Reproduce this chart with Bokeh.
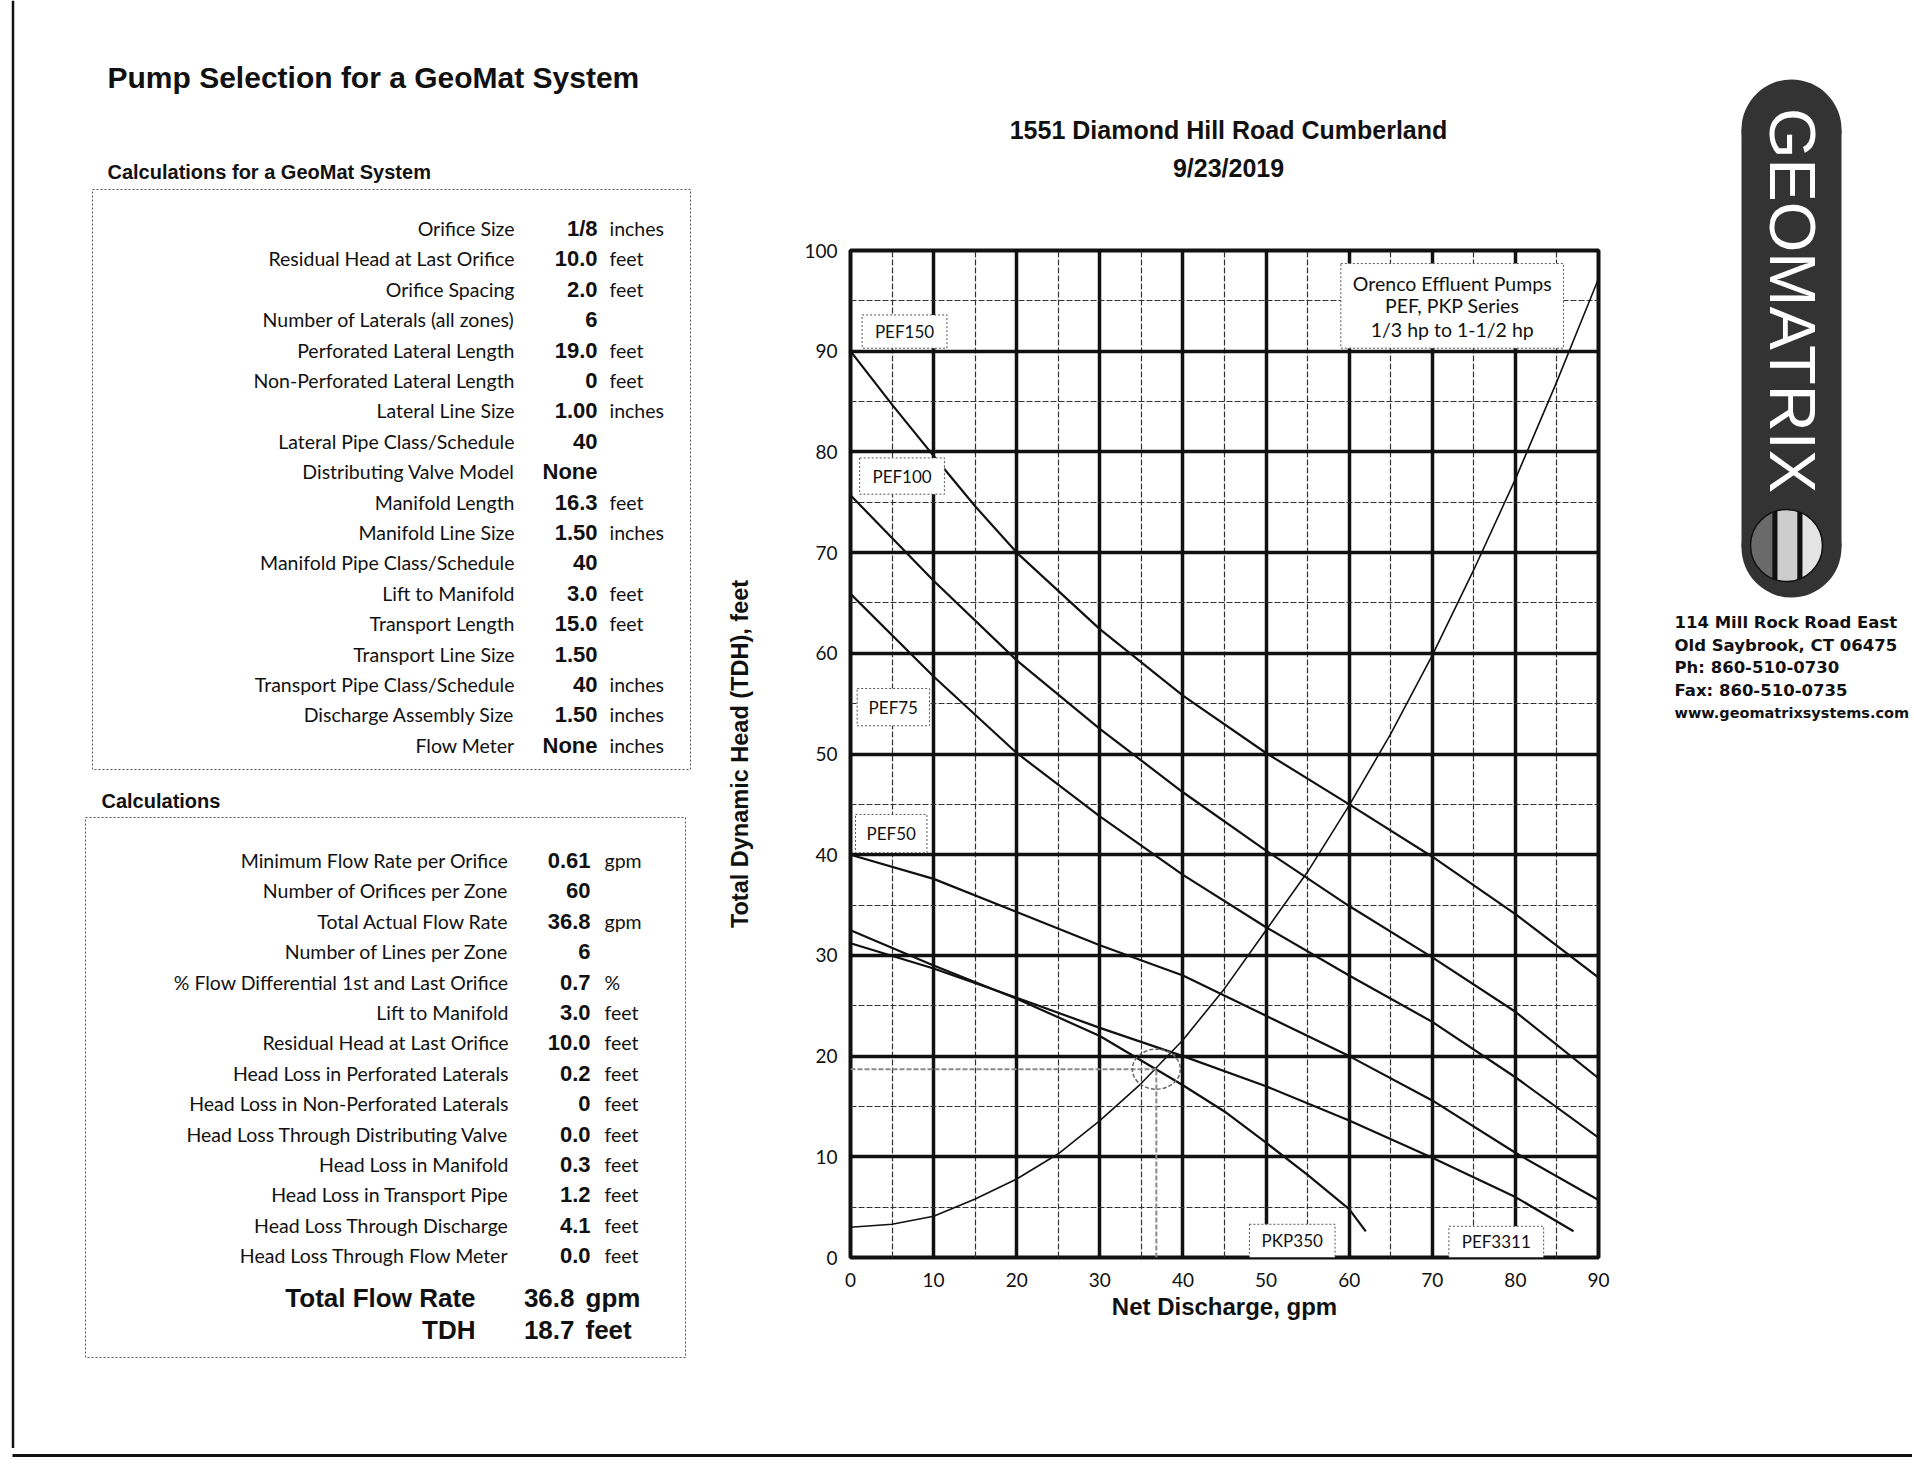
import numpy as np
from bokeh.plotting import figure
from bokeh.models import Range1d, FixedTicker
from bokeh.layouts import row, column
from bokeh.embed import file_html
from bokeh.resources import INLINE
from bokeh.core.properties import value

# ---------------- data ----------------
page_title = "Pump Selection for a GeoMat System"
inputs_heading = "Calculations for a GeoMat System"
input_labels = ["Orifice Size", "Residual Head at Last Orifice", "Orifice Spacing",
                "Number of Laterals (all zones)", "Perforated Lateral Length",
                "Non-Perforated Lateral Length", "Lateral Line Size",
                "Lateral Pipe Class/Schedule", "Distributing Valve Model", "Manifold Length",
                "Manifold Line Size", "Manifold Pipe Class/Schedule", "Lift to Manifold",
                "Transport Length", "Transport Line Size", "Transport Pipe Class/Schedule",
                "Discharge Assembly Size", "Flow Meter"]
input_values = ["1/8", "10.0", "2.0", "6", "19.0", "0", "1.00", "40", "None", "16.3",
                "1.50", "40", "3.0", "15.0", "1.50", "40", "1.50", "None"]
input_units = ["inches", "feet", "feet", "", "feet", "feet", "inches", "", "", "feet",
               "inches", "", "feet", "feet", "", "inches", "inches", "inches"]

calc_heading = "Calculations"
calc_labels = ["Minimum Flow Rate per Orifice", "Number of Orifices per Zone",
               "Total Actual Flow Rate", "Number of Lines per Zone",
               "% Flow Differential 1st and Last Orifice", "Lift to Manifold",
               "Residual Head at Last Orifice", "Head Loss in Perforated Laterals",
               "Head Loss in Non-Perforated Laterals", "Head Loss Through Distributing Valve",
               "Head Loss in Manifold", "Head Loss in Transport Pipe",
               "Head Loss Through Discharge", "Head Loss Through Flow Meter"]
calc_values = ["0.61", "60", "36.8", "6", "0.7", "3.0", "10.0", "0.2", "0", "0.0", "0.3",
               "1.2", "4.1", "0.0"]
calc_units = ["gpm", "", "gpm", "", "%", "feet", "feet", "feet", "feet", "feet", "feet",
              "feet", "feet", "feet"]
total_labels = ["Total Flow Rate", "TDH"]
total_values = ["36.8", "18.7"]
total_units = ["gpm", "feet"]

chart_title = ["1551 Diamond Hill Road Cumberland", "9/23/2019"]
x_label = "Net Discharge, gpm"
y_label = "Total Dynamic Head (TDH), feet"
x_ticks = list(range(0, 91, 10))
y_ticks = list(range(0, 101, 10))

pef150_q = [0, 5, 10, 15, 20, 30, 40, 50, 60, 70, 80, 90]
pef150_h = [90.0, 84.7, 79.6, 74.6, 70.0, 62.4, 55.8, 50.1, 45.0, 39.8, 34.1, 27.8]
pef100_q = [0, 10, 20, 30, 40, 50, 60, 70, 80, 90]
pef100_h = [75.7, 67.2, 59.3, 52.5, 46.2, 40.4, 34.9, 29.8, 24.4, 17.8]
pef75_q = [0, 10, 20, 30, 40, 50, 60, 70, 80, 90]
pef75_h = [65.9, 57.7, 50.1, 43.8, 38.0, 32.8, 28.0, 23.4, 17.9, 11.9]
pef50_q = [0, 10, 20, 30, 40, 50, 60, 70, 80, 90]
pef50_h = [40.0, 37.6, 34.3, 31.0, 28.0, 24.0, 20.0, 15.6, 10.4, 5.7]
pkp350_q = [0, 10, 20, 30, 40, 45, 50, 55, 60, 62]
pkp350_h = [32.5, 29.0, 25.7, 22.0, 17.1, 14.5, 11.4, 8.2, 4.8, 2.6]
pef3311_q = [0, 10, 20, 30, 40, 50, 60, 70, 80, 87]
pef3311_h = [31.2, 28.7, 25.8, 22.8, 20.0, 17.0, 13.6, 9.9, 6.0, 2.6]
system_q = [0, 5, 10, 15, 20, 25, 30, 35, 40, 45, 50, 55, 60, 65, 70, 75, 80, 85, 90]
system_h = [3.0, 3.3, 4.1, 5.8, 7.8, 10.3, 13.6, 17.3, 21.6, 26.7, 32.5, 38.3, 44.9,
            52.0, 59.8, 68.3, 77.3, 87.0, 97.2]

op_flow = 36.8
op_tdh = 18.7

pump_names = ["PEF150", "PEF100", "PEF75", "PEF50", "PKP350", "PEF3311"]
legend_lines = ["Orenco Effluent Pumps", "PEF, PKP Series", "1/3 hp to 1-1/2 hp"]
logo_text = "GEOMATRIX"
company_lines = ["114 Mill Rock Road East", "Old Saybrook, CT 06475", "Ph: 860-510-0730",
                 "Fax: 860-510-0735", "www.geomatrixsystems.com"]

# ---------------- styling ----------------
REG = "Lato"
SANS = "Liberation Sans"
VERD = "DejaVu Sans"
INK = "#111111"
ROW_H = 1448
TITLE_H = 240


def canvas(x0, x1, y0, y1, w, h):
    f = figure(width=w, height=h, x_range=Range1d(x0, x1), y_range=Range1d(y1, y0),
               output_backend="svg", toolbar_location=None, x_axis_type=None,
               y_axis_type=None, min_border=0, min_border_left=0, min_border_right=0,
               min_border_top=0, min_border_bottom=0, outline_line_color=None,
               background_fill_color="white", border_fill_color="white")
    f.frame_align = False
    return f


# ---------------- left panel (page pixel coordinates) ----------------
left = canvas(0, 700, 0, ROW_H, 700, ROW_H)
left.segment(x0=[12.5], y0=[0], x1=[12.5], y1=[ROW_H], line_color=INK, line_width=2.5)
left.text(x=[107], y=[77], text=[page_title], text_font=value(SANS), text_font_style="bold",
          text_font_size="30px", text_baseline="middle", text_color=INK)
left.text(x=[107, 101], y=[171, 800], text=[inputs_heading, calc_heading], text_font=value(SANS),
          text_font_style="bold", text_font_size="20px", text_baseline="middle", text_color=INK)
left.quad(left=[92, 85], right=[690, 685], top=[189, 817], bottom=[769, 1357],
          fill_color=None, line_color="#555555", line_width=1, line_dash="2 2")

r1 = [228 + 30.4 * i for i in range(len(input_labels))]
left.text(x=[514] * len(r1), y=r1, text=input_labels, text_font=value(REG),
          text_font_size="19.5px", text_align="right", text_baseline="middle", text_color=INK)
left.text(x=[597] * len(r1), y=r1, text=input_values, text_font=value(SANS),
          text_font_style="bold", text_font_size="22px", text_align="right",
          text_baseline="middle", text_color=INK)
left.text(x=[609] * len(r1), y=r1, text=input_units, text_font=value(REG),
          text_font_size="19.5px", text_align="left", text_baseline="middle", text_color=INK)

r2 = [860 + 30.4 * i for i in range(len(calc_labels))]
left.text(x=[508] * len(r2), y=r2, text=calc_labels, text_font=value(REG),
          text_font_size="19.5px", text_align="right", text_baseline="middle", text_color=INK)
left.text(x=[590] * len(r2), y=r2, text=calc_values, text_font=value(SANS),
          text_font_style="bold", text_font_size="22px", text_align="right",
          text_baseline="middle", text_color=INK)
left.text(x=[604] * len(r2), y=r2, text=calc_units, text_font=value(REG),
          text_font_size="19.5px", text_align="left", text_baseline="middle", text_color=INK)

rt = [1297.5, 1329]
left.text(x=[475, 475], y=rt, text=total_labels, text_font=value(SANS), text_font_style="bold",
          text_font_size="26px", text_align="right", text_baseline="middle", text_color=INK)
left.text(x=[574, 574], y=rt, text=total_values, text_font=value(SANS), text_font_style="bold",
          text_font_size="26px", text_align="right", text_baseline="middle", text_color=INK)
left.text(x=[585, 585], y=rt, text=total_units, text_font=value(SANS), text_font_style="bold",
          text_font_size="26px", text_align="left", text_baseline="middle", text_color=INK)

# ---------------- chart title strip ----------------
head = canvas(700, 1630, 0, TITLE_H, 930, TITLE_H)
head.text(x=[1228, 1228], y=[129, 167], text=chart_title, text_font=value(SANS),
          text_font_style="bold", text_font_size="25px", text_align="center",
          text_baseline="middle", text_color=INK)

# ---------------- chart ----------------
p = figure(width=930, height=ROW_H - TITLE_H, x_range=Range1d(0, 90), y_range=Range1d(0, 100),
           output_backend="svg", toolbar_location=None, min_border_left=150,
           min_border_right=32, min_border_top=10, min_border_bottom=191,
           background_fill_color="white", border_fill_color="white")
p.frame_align = False
p.outline_line_color = INK
p.outline_line_width = 4

x_minor = [t + 5 for t in x_ticks[:-1]]
y_minor = [t + 5 for t in y_ticks[:-1]]
p.xaxis.ticker = FixedTicker(ticks=x_ticks, minor_ticks=x_minor)
p.yaxis.ticker = FixedTicker(ticks=y_ticks, minor_ticks=y_minor)
p.xgrid.ticker = FixedTicker(ticks=x_ticks, minor_ticks=x_minor)
p.ygrid.ticker = FixedTicker(ticks=y_ticks, minor_ticks=y_minor)
for g in (p.xgrid, p.ygrid):
    g.grid_line_color = INK
    g.grid_line_width = 3.5
    g.grid_line_alpha = 1.0
    g.minor_grid_line_color = "#333333"
    g.minor_grid_line_width = 1.2
    g.minor_grid_line_dash = "6 2"

for ax in (p.xaxis, p.yaxis):
    ax.axis_line_color = None
    ax.major_tick_line_color = None
    ax.minor_tick_line_color = None
    ax.major_label_text_font = REG
    ax.major_label_text_font_size = "19px"
    ax.major_label_text_color = INK
    ax.axis_label_text_font = SANS
    ax.axis_label_text_font_style = "bold"
    ax.axis_label_text_color = INK
p.xaxis.axis_label = x_label
p.yaxis.axis_label = y_label
p.xaxis.major_label_standoff = 9
p.yaxis.major_label_standoff = 7
p.xaxis.axis_label_text_font_size = "24px"
p.yaxis.axis_label_text_font_size = "23.5px"
p.xaxis.axis_label_standoff = 3
p.yaxis.axis_label_standoff = 48

for q, h in [(pef150_q, pef150_h), (pef100_q, pef100_h), (pef75_q, pef75_h),
             (pef50_q, pef50_h), (pkp350_q, pkp350_h), (pef3311_q, pef3311_h)]:
    p.line(q, h, line_color=INK, line_width=2.2)
p.line(system_q, system_h, line_color=INK, line_width=1.6)

# operating point guides
p.segment(x0=[0, op_flow], y0=[op_tdh, 0], x1=[op_flow, op_flow], y1=[op_tdh, op_tdh],
          line_color="#8a8a8a", line_width=2, line_dash="5 2")
p.ellipse(x=[op_flow], y=[op_tdh], width=48, height=40, width_units="screen",
          height_units="screen", fill_color=None, line_color="#666666", line_width=1.5,
          line_dash="4 2")

# curve name boxes
lab_left = [1.4, 1.1, 0.8, 0.6, 48.0, 72.0]
lab_right = [11.6, 11.3, 9.5, 9.2, 58.3, 83.4]
lab_top = [93.6, 79.4, 56.5, 44.0, 3.3, 3.1]
lab_bottom = [90.3, 75.8, 52.8, 40.2, 0.0, 0.0]
p.quad(left=lab_left, right=lab_right, top=lab_top, bottom=lab_bottom, fill_color="white",
       line_color="#555555", line_width=1, line_dash="2 2")
p.text(x=[(a + b) / 2 for a, b in zip(lab_left, lab_right)],
       y=[(a + b) / 2 for a, b in zip(lab_top, lab_bottom)], text=pump_names,
       text_font=value(REG), text_font_size="17px", text_align="center",
       text_baseline="middle", text_color=INK)

p.quad(left=[59.0], right=[85.8], top=[98.7], bottom=[90.3], fill_color="white",
       line_color="#555555", line_width=1, line_dash="2 2")
p.text(x=[72.4] * 3, y=[96.7, 94.5, 92.2], text=legend_lines, text_font=value(REG),
       text_font_size="19.5px", text_align="center", text_baseline="middle", text_color=INK)

# ---------------- right panel (logo + address) ----------------
right = canvas(1630, 1912, 0, ROW_H, 282, ROW_H)
cx, r, ptop, pbot = 1791, 50, 79, 597
right.quad(left=[cx - r], right=[cx + r], top=[ptop + r], bottom=[pbot - r],
           fill_color="#333333", line_color=None)
right.circle(x=[cx, cx], y=[ptop + r, pbot - r], radius=r, fill_color="#333333",
             line_color=None)
right.text(x=[cx + 1], y=[300], text=[logo_text], angle=-np.pi / 2, text_font=value(SANS),
           text_font_size="65px", text_align="center", text_baseline="middle",
           text_color="white")
# tri-colour disc
ccx, ccy, cr = 1786, 545, 36
bands = [(ccx - cr, 1772, "#6a6a6a"), (1772, 1777, "#111111"), (1777, 1797, "#cdcdcd"),
         (1797, 1802, "#111111"), (1802, ccx + cr, "#e4e4e4")]
xs, ys, cs = [], [], []
for a, b, c in bands:
    t = np.linspace(a, b, 30)
    half = np.sqrt(np.clip(cr ** 2 - (t - ccx) ** 2, 0, None))
    xs.append(list(t) + list(t[::-1]))
    ys.append(list(ccy - half) + list((ccy + half)[::-1]))
    cs.append(c)
right.patches(xs, ys, fill_color=cs, line_color=None)
right.circle(x=[ccx], y=[ccy], radius=cr, fill_color=None, line_color="#111111", line_width=1.5)
addr_y = [622 + 22.6 * i for i in range(len(company_lines))]
right.text(x=[1674] * 4, y=addr_y[:4], text=company_lines[:4], text_font=value(VERD),
           text_font_style="bold", text_font_size="16.5px", text_align="left",
           text_baseline="middle", text_color=INK)
right.text(x=[1674], y=addr_y[4:], text=company_lines[4:], text_font=value(VERD),
           text_font_style="bold", text_font_size="14.5px", text_align="left",
           text_baseline="middle", text_color=INK)

# ---------------- bottom border strip ----------------
strip = canvas(0, 1912, 0, 10, 1912, 10)
strip.segment(x0=[12], y0=[5], x1=[1912], y1=[5], line_color=INK, line_width=3)

layout = column(row(left, column(head, p), right), strip)
open("out.html", "w").write(file_html(layout, INLINE))
